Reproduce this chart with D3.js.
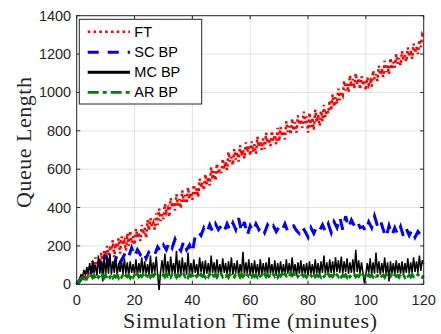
<!DOCTYPE html>
<html>
<head>
<meta charset="utf-8">
<script src="https://cdn.jsdelivr.net/npm/d3@7"></script>
<style>
  html, body { margin: 0; padding: 0; background: #fff; }
  svg { display: block; }
</style>
</head>
<body>
<svg id="chart" width="441" height="334"></svg>
<script>
// Queue length over simulation time, sampled every 0.5 minutes (SC BP every minute)
const xTicks = [0, 20, 40, 60, 80, 100, 120];
const yTicks = [0, 200, 400, 600, 800, 1000, 1200, 1400];
const seriesNames = ["FT", "SC BP", "MC BP", "AR BP"];

const ftValues = [
  0,25,5,45,20,50,35,80,45,100,60,120,70,140,95,125,105,165,110,175,
  130,200,150,185,175,230,140,215,190,240,160,250,205,225,175,265,200,280,215,250,
  205,290,245,270,225,310,260,295,240,335,280,345,300,320,285,370,310,395,330,365,
  340,420,375,395,350,450,400,430,385,470,410,445,395,490,430,465,420,505,445,480,
  440,520,470,500,455,550,505,530,490,575,520,560,515,610,545,590,540,630,575,600,
  580,655,600,640,595,690,640,665,620,705,650,690,640,725,670,700,655,740,690,720,
  670,745,690,730,680,770,715,745,700,760,705,790,735,760,720,800,745,780,730,815,
  745,820,770,800,755,850,795,825,780,865,800,845,790,880,830,860,815,900,840,875,
  790,895,820,870,805,910,845,885,825,905,850,935,870,910,890,960,905,990,925,975,
  940,1020,960,1000,985,1060,1010,1045,1000,1090,1030,1070,1020,1100,1040,1075,1015,1085,1035,1065,
  1010,1080,1040,1060,1030,1115,1070,1095,1060,1140,1090,1125,1080,1165,1105,1140,1095,1180,1120,1160,
  1130,1200,1150,1180,1140,1215,1170,1195,1160,1235,1185,1220,1175,1255,1205,1240,1200,1275,1235,1300,1285
];

const scValues = [
  0,15,35,55,70,60,95,75,115,90,
  155,115,145,105,155,115,140,170,145,190,
  145,180,155,175,135,170,180,155,195,170,
  205,180,220,190,235,195,175,225,180,205,
  165,255,275,255,295,270,310,275,315,285,
  305,275,315,280,320,285,345,275,325,255,
  305,275,315,285,305,270,310,285,305,275,
  300,280,315,275,300,305,280,265,300,275,
  245,295,265,300,280,310,275,315,270,325,
  295,350,285,355,295,335,305,330,295,300,
  275,325,295,355,305,335,285,245,305,255,
  295,260,300,250,290,255,285,245,275,255,280
];

const mcValues = [
  0,15,30,50,40,75,45,90,55,110,50,125,60,100,45,150,55,120,15,155,
  45,135,55,160,50,120,60,140,45,110,65,125,50,135,55,115,45,120,60,105,
  50,130,45,110,60,140,50,120,55,105,45,150,55,115,60,145,50,-30,65,125,
  55,160,50,120,45,145,60,110,50,175,55,125,45,140,60,115,50,165,55,110,
  50,130,60,105,45,140,65,120,50,125,55,110,45,150,60,115,50,130,55,105,
  50,135,60,110,45,120,55,140,50,110,60,125,45,105,55,170,50,115,55,130,
  45,110,50,125,55,105,45,130,50,110,55,115,45,140,55,105,50,125,45,110,
  55,120,50,105,45,130,55,110,50,140,55,105,45,115,55,125,50,105,55,110,
  45,120,55,105,50,130,55,110,45,120,60,150,55,115,50,130,60,120,55,140,
  65,125,60,145,55,120,65,135,55,115,60,130,55,180,65,125,55,115,60,5,
  50,110,60,135,50,115,55,165,60,120,50,110,60,140,50,115,15,120,55,110,
  50,125,60,110,55,120,50,110,60,135,55,115,60,140,65,120,60,150,70,125,105
];

const arValues = [
  0,10,20,30,35,28,40,30,44,32,46,34,48,30,45,36,47,33,46,35,
  48,32,46,36,50,34,45,38,49,33,47,37,50,35,46,39,48,34,50,36,
  47,35,51,38,46,40,52,36,48,41,53,37,49,42,54,38,30,45,52,40,
  50,38,53,41,48,37,52,40,49,36,51,42,47,38,53,40,50,37,52,41,
  48,36,51,40,49,37,53,41,47,36,50,39,52,38,48,42,51,37,49,40,
  52,38,48,41,50,36,53,40,47,38,51,42,49,37,52,40,48,36,50,41,
  47,38,52,40,49,37,51,42,48,36,53,39,50,41,47,38,52,40,49,37,
  51,42,54,40,56,44,52,41,58,45,55,42,53,40,50,38,52,41,48,37,
  50,40,47,36,52,39,49,41,46,37,51,40,48,38,53,41,47,39,50,36,
  49,40,52,38,47,41,50,37,53,39,48,42,51,38,46,40,52,37,49,41,
  47,36,51,40,48,38,52,41,46,37,50,42,48,36,51,39,47,40,53,38,
  49,41,47,37,52,40,48,36,50,42,47,38,51,40,46,39,52,41,48,37,45
];

const axisColor = "#262626";
const gridColor = "#e3e3e3";
const tickFont = "'Liberation Sans', Arial, Helvetica, sans-serif";
const labelFont = "'Liberation Serif', 'Times New Roman', serif";

const svg = d3.select("#chart");
const plotLeft = 76.7, plotRight = 423.7, plotTop = 15.7, plotBottom = 284.3;

const x = d3.scaleLinear().domain([0, 120]).range([plotLeft, plotRight]);
const y = d3.scaleLinear().domain([0, 1400]).range([plotBottom, plotTop]);

// grid
const grid = svg.append("g");
grid.selectAll("line.gx").data(xTicks.slice(1, -1)).join("line")
  .attr("x1", d => x(d)).attr("x2", d => x(d))
  .attr("y1", plotTop).attr("y2", plotBottom)
  .attr("stroke", gridColor).attr("stroke-width", 1);
grid.selectAll("line.gy").data(yTicks.slice(1, -1)).join("line")
  .attr("x1", plotLeft).attr("x2", plotRight)
  .attr("y1", d => y(d)).attr("y2", d => y(d))
  .attr("stroke", gridColor).attr("stroke-width", 1);

// series
const series = [
  { name: seriesNames[0], values: ftValues, step: 0.5, color: "#ff0000", width: 2.6, dash: "2.6,3.2" },
  { name: seriesNames[1], values: scValues, step: 1, color: "#0000ff", width: 3, dash: "11,9" },
  { name: seriesNames[2], values: mcValues, step: 0.5, color: "#000000", width: 1.5, dash: null },
  { name: seriesNames[3], values: arValues, step: 0.5, color: "#008000", width: 2.8, dash: "11,4,4,4" }
];

const line = d3.line().x(d => x(d[0])).y(d => y(d[1]));
const plot = svg.append("g");
series.forEach(s => {
  const pts = s.values.map((v, i) => [i * s.step, v]);
  const p = plot.append("path")
    .datum(pts)
    .attr("d", line)
    .attr("fill", "none")
    .attr("stroke", s.color)
    .attr("stroke-width", s.width)
    .attr("stroke-linejoin", "miter");
  if (s.dash) p.attr("stroke-dasharray", s.dash);
});

// axes (box with inward ticks on all sides)
const tickLen = 3.5;
const ax = svg.append("g");
ax.append("rect")
  .attr("x", plotLeft).attr("y", plotTop)
  .attr("width", plotRight - plotLeft).attr("height", plotBottom - plotTop)
  .attr("fill", "none").attr("stroke", axisColor).attr("stroke-width", 1);

xTicks.forEach(t => {
  ax.append("line").attr("x1", x(t)).attr("x2", x(t)).attr("y1", plotBottom).attr("y2", plotBottom - tickLen)
    .attr("stroke", axisColor);
  ax.append("line").attr("x1", x(t)).attr("x2", x(t)).attr("y1", plotTop).attr("y2", plotTop + tickLen)
    .attr("stroke", axisColor);
});
yTicks.forEach(t => {
  ax.append("line").attr("x1", plotLeft).attr("x2", plotLeft + tickLen).attr("y1", y(t)).attr("y2", y(t))
    .attr("stroke", axisColor);
  ax.append("line").attr("x1", plotRight).attr("x2", plotRight - tickLen).attr("y1", y(t)).attr("y2", y(t))
    .attr("stroke", axisColor);
});

ax.selectAll("text.xt").data(xTicks).join("text")
  .attr("x", d => x(d)).attr("y", 305)
  .attr("text-anchor", "middle")
  .attr("font-family", tickFont).attr("font-size", 14.5)
  .attr("fill", axisColor)
  .text(d => d);

ax.selectAll("text.yt").data(yTicks).join("text")
  .attr("x", plotLeft - 5.5).attr("y", d => y(d) + 5)
  .attr("text-anchor", "end")
  .attr("font-family", tickFont).attr("font-size", 14.5)
  .attr("fill", axisColor)
  .text(d => d);

svg.append("text")
  .attr("x", 250).attr("y", 328)
  .attr("text-anchor", "middle")
  .attr("font-family", labelFont).attr("font-size", 22)
  .attr("textLength", 254).attr("lengthAdjust", "spacing")
  .attr("fill", axisColor)
  .text("Simulation Time (minutes)");

svg.append("text")
  .attr("transform", "translate(30.5,142.5) rotate(-90)")
  .attr("text-anchor", "middle")
  .attr("font-family", labelFont).attr("font-size", 22)
  .attr("textLength", 131).attr("lengthAdjust", "spacing")
  .attr("fill", axisColor)
  .text("Queue Length");

// legend
const lg = svg.append("g");
lg.append("rect")
  .attr("x", 79.3).attr("y", 19.3).attr("width", 122.4).attr("height", 84.7)
  .attr("fill", "#fff").attr("stroke", axisColor).attr("stroke-width", 1);
const rowY = [31.7, 52.3, 72.3, 92.3];
series.forEach((s, i) => {
  const l = lg.append("line")
    .attr("x1", 87.7).attr("x2", 130)
    .attr("y1", rowY[i]).attr("y2", rowY[i])
    .attr("stroke", s.color)
    .attr("stroke-width", i === 2 ? 3 : s.width);
  if (s.dash) l.attr("stroke-dasharray", s.dash);
  lg.append("text")
    .attr("x", 134.3).attr("y", rowY[i] + 5)
    .attr("font-family", tickFont).attr("font-size", 14.5)
    .attr("fill", "#000")
    .text(s.name);
});
</script>
</body>
</html>
